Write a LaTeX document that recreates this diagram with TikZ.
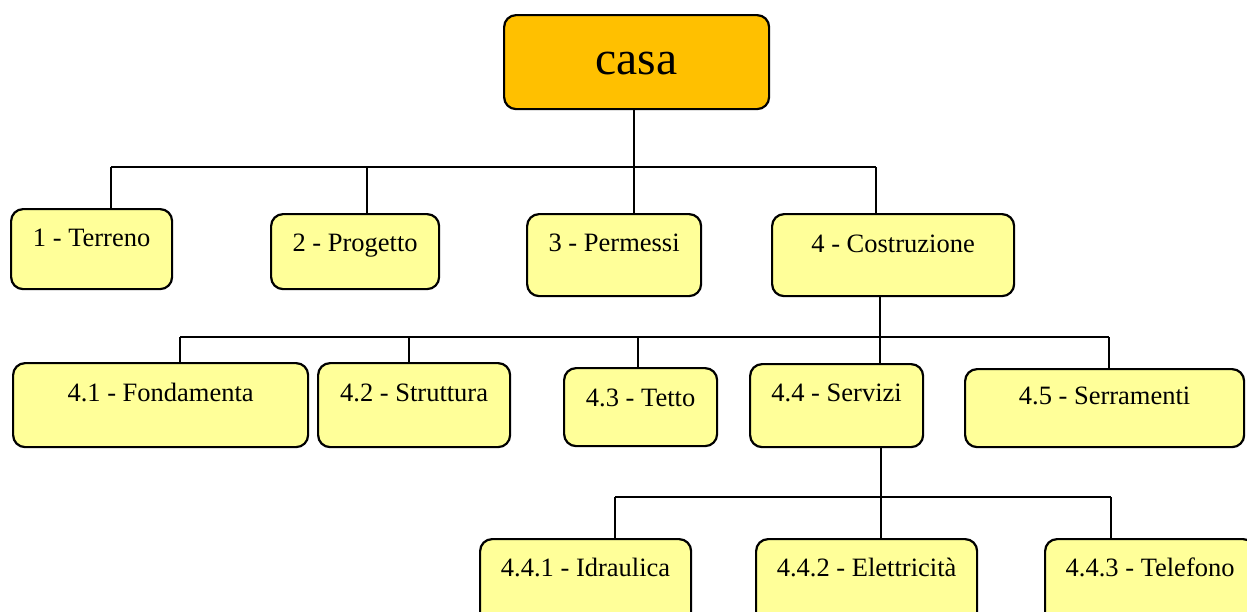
\documentclass[tikz,border=0pt]{standalone}
\usepackage{fontspec}
\setmainfont{Liberation Serif}
\usepackage{xcolor}
\definecolor{casaorange}{HTML}{FFC000}
\definecolor{wbsyellow}{HTML}{FFFF99}
\tikzset{
  wbs root/.style={draw, fill=casaorange, rounded corners=12pt, line width=2.2pt,
    inner sep=0pt, anchor=north west, font=\fontsize{47.6}{50}\selectfont},
  wbs task/.style={draw, fill=wbsyellow, rounded corners=12pt, line width=2.2pt,
    inner sep=0pt, anchor=north west, font=\fontsize{26.5}{30}\selectfont},
  dims/.style n args={3}{minimum width=#1pt, text height=#2pt, text depth=#3pt}
}
\begin{document}
\begin{tikzpicture}[x=1pt, y=-1pt]
                    \useasboundingbox (0,0) rectangle (1247,611);
                    \clip (0,0) rectangle (1247,611);
                    % junctions on the horizontal bars
                    \coordinate (j0a) at (111,167);
                    \coordinate (j0b) at (367,167);
                    \coordinate (j0c) at (634,167);
                    \coordinate (j0d) at (876,167);
                    \coordinate (j1a) at (180,337);
                    \coordinate (j1b) at (409,337);
                    \coordinate (j1c) at (638,337);
                    \coordinate (j1d) at (880,337);
                    \coordinate (j1e) at (1109,337);
                    \coordinate (j2a) at (615,497);
                    \coordinate (j2b) at (881,497);
                    \coordinate (j2c) at (1111,497);
                    \begin{scope}[every node/.style={wbs task}]
                        \node[wbs root, dims={265}{59}{35}] (casa) at (503,14) {casa};
                        \node[dims={161}{37}{43}] (terreno)     at (10,208)   {1 - Terreno};
                        \node[dims={168}{37}{38}] (progetto)    at (270,213)  {2 - Progetto};
                        \node[dims={174}{37}{45}] (permessi)    at (526,213)  {3 - Permessi};
                        \node[dims={242}{38}{44}] (costruzione) at (771,213)  {4 - Costruzione};
                        \node[dims={295}{38}{46}] (fondamenta)  at (12,362)   {4.1 - Fondamenta};
                        \node[dims={192}{38}{46}] (struttura)   at (317,362)  {4.2 - Struttura};
                        \node[dims={153}{38}{40}] (tetto)       at (563,367)  {4.3 - Tetto};
                        \node[dims={173}{37}{46}] (servizi)     at (749,363)  {4.4 - Servizi};
                        \node[dims={279}{35}{43}] (serramenti)  at (964,368)  {4.5 - Serramenti};
                        \node[dims={211}{37}{50}] (idraulica)   at (479,538)  {4.4.1 - Idraulica};
                        \node[dims={221}{37}{50}] (elettricita) at (755,538)  {4.4.2 - Elettricità};
                        \node[dims={210}{37}{50}] (telefono)    at (1044,538) {4.4.3 - Telefono};
                    \end{scope}
                    \begin{scope}[line width=2pt]
                        % casa
                        \draw (j0a) -- (j0d);
                        \draw (j0c |- casa.south) -- (j0c |- permessi.north);
                        \draw (j0a) -- (j0a |- terreno.north);
                        \draw (j0b) -- (j0b |- progetto.north);
                        \draw (j0d) -- (j0d |- costruzione.north);

                        % 4 - Costruzione
                        \draw (j1a) -- (j1e);
                        \draw (j1d |- costruzione.south) -- (j1d |- servizi.north);
                        \draw (j1a) -- (j1a |- fondamenta.north);
                        \draw (j1b) -- (j1b |- struttura.north);
                        \draw (j1c) -- (j1c |- tetto.north);
                        \draw (j1e) -- (j1e |- serramenti.north);

                        % 4.4 - Servizi
                        \draw (j2a) -- (j2c);
                        \draw (j2b |- servizi.south) -- (j2b |- elettricita.north);
                        \draw (j2a) -- (j2a |- idraulica.north);
                        \draw (j2c) -- (j2c |- telefono.north);
                    \end{scope}
                \end{tikzpicture}
\end{document}
